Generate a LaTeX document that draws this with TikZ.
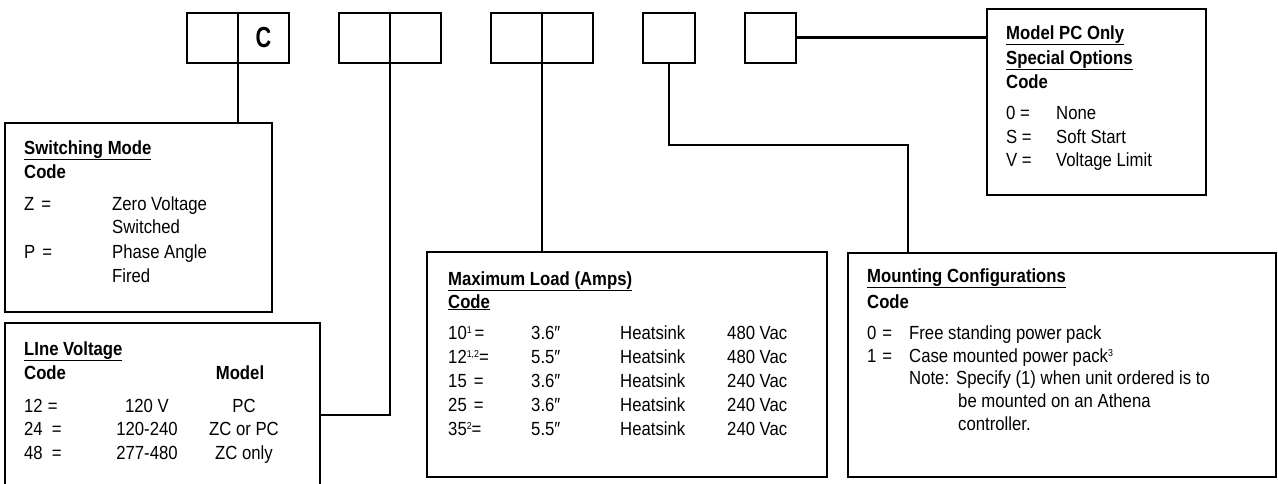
\documentclass[tikz,border=0pt]{standalone}
\usepackage{fontspec}
\setmainfont[FakeStretch=0.88]{Liberation Sans}
\newcommand{\smsup}[1]{\raisebox{6pt}{\fontsize{10}{10}\selectfont #1}}
\begin{document}
\begin{tikzpicture}[x=1pt,y=-1pt,
  cell/.style={draw, line width=2pt, minimum width=51pt, minimum height=50.5pt, anchor=north west, inner sep=0pt, outer sep=0pt},
  bigbox/.style={draw, line width=2.6pt, anchor=north west, inner sep=0pt, outer sep=0pt},
  conn/.style={line width=2.8pt},
  txt/.style={anchor=base west, inner sep=0pt, font=\fontsize{19}{22}\selectfont},
  ctxt/.style={anchor=base, inner sep=0pt, font=\fontsize{19}{22}\selectfont},
  ttl/.style={txt, font=\fontsize{19}{22}\selectfont\bfseries}
]
\useasboundingbox (0,0) rectangle (1278,483);
\clip (0,0) rectangle (1278,483);

% top code cells
\node[cell] (b1) at (187,12.5) {};
\node[cell] (b2) at (238,12.5) {};
\node[font=\fontsize{29}{29}\selectfont\bfseries, inner sep=0pt, xscale=0.85] (cc) at (b2.center) {C};
\node[cell] (b3) at (339,12.5) {};
\node[cell] (b4) at (390,12.5) {};
\node[cell] (b5) at (491,12.5) {};
\node[cell] (b6) at (542,12.5) {};
\node[cell, minimum width=52pt] (b7) at (643,12.5) {};
\node[cell] (b8) at (745,12.5) {};

% big boxes
\node[bigbox, minimum width=267pt, minimum height=189pt] (sw) at (5,123) {};
\node[bigbox, minimum width=315pt, minimum height=175pt] (lv) at (5,323) {};
\node[bigbox, minimum width=400pt, minimum height=225pt] (ml) at (427,252) {};
\node[bigbox, minimum width=428pt, minimum height=224pt] (mc) at (848,253) {};
\node[bigbox, minimum width=219pt, minimum height=186pt] (sp) at (987,9) {};

% connectors
\draw[conn] (b1.south east) -- (b1.south east |- sw.north);
\draw[conn] (b3.south east) |- ([yshift=-92pt]lv.north east);
\draw[conn] (b5.south east) -- (b5.south east |- ml.north);
\coordinate (bend) at (908,145);
\draw[conn] (b7.south) |- (bend) -- (bend |- mc.north);
\draw[conn] (b8.east) -- (b8.east -| sp.west);

% Switching Mode
\node[ttl] (sw1) at (24,154) {\underline{Switching Mode}};
\node[ttl] (sw2) at (24,178) {Code};
\node[txt] (sw3) at (24,210) {Z\hspace{7pt}=};
\node[txt] (sw4) at (112,210) {Zero Voltage};
\node[txt] (sw5) at (112,233) {Switched};
\node[txt] (sw6) at (24,258) {P\hspace{7pt}=};
\node[txt] (sw7) at (112,258) {Phase Angle};
\node[txt] (sw8) at (112,282) {Fired};

% Line Voltage
\node[ttl] (lv1) at (24,355) {\underline{LIne Voltage}};
\node[ttl] (lv2) at (24,379) {Code};
\node[ctxt, font=\fontsize{19}{22}\selectfont\bfseries] (lv3) at (240,379) {Model};
\node[txt] (lv4) at (24,412) {12\hspace{5pt}=};
\node[txt] (lv5) at (24,435) {24\hspace{9pt}=};
\node[txt] (lv6) at (24,459) {48\hspace{9pt}=};
\node[ctxt] (lv7) at (147,412) {120 V};
\node[ctxt] (lv8) at (147,435) {120-240};
\node[ctxt] (lv9) at (147,459) {277-480};
\node[ctxt] (lv10) at (244,412) {PC};
\node[ctxt] (lv11) at (244,435) {ZC or PC};
\node[ctxt] (lv12) at (244,459) {ZC only};

% Maximum Load
\node[ttl] (ml1) at (448,285) {\underline{Maximum Load (Amps)}};
\node[ttl] (ml2) at (448,308) {\underline{Code}};
\node[txt] (ml3) at (448,339) {10\smsup{1}\hspace{3pt}=};
\node[txt] (ml4) at (448,363) {12\smsup{1,2}=};
\node[txt] (ml5) at (448,387) {15\hspace{7pt}=};
\node[txt] (ml6) at (448,411) {25\hspace{7pt}=};
\node[txt] (ml7) at (448,435) {35\smsup{2}=};
\node[txt] (ml8) at (531,339) {3.6\char"2033};
\node[txt] (ml9) at (531,363) {5.5\char"2033};
\node[txt] (ml10) at (531,387) {3.6\char"2033};
\node[txt] (ml11) at (531,411) {3.6\char"2033};
\node[txt] (ml12) at (531,435) {5.5\char"2033};
\node[txt] (ml13) at (620,339) {Heatsink};
\node[txt] (ml14) at (620,363) {Heatsink};
\node[txt] (ml15) at (620,387) {Heatsink};
\node[txt] (ml16) at (620,411) {Heatsink};
\node[txt] (ml17) at (620,435) {Heatsink};
\node[txt] (ml18) at (727,339) {480 Vac};
\node[txt] (ml19) at (727,363) {480 Vac};
\node[txt] (ml20) at (727,387) {240 Vac};
\node[txt] (ml21) at (727,411) {240 Vac};
\node[txt] (ml22) at (727,435) {240 Vac};

% Mounting Configurations
\node[ttl] (mc1) at (867,282) {\underline{Mounting Configurations}};
\node[ttl] (mc2) at (867,308) {Code};
\node[txt] (mc3) at (867,339) {0\hspace{6pt}=};
\node[txt] (mc4) at (867,362) {1\hspace{6pt}=};
\node[txt] (mc5) at (909,339) {Free standing power pack};
\node[txt] (mc6) at (909,362) {Case mounted power pack\smsup{3}};
\node[txt] (mc7) at (909,384) {Note:\hspace{7pt}Specify (1) when unit ordered is to};
\node[txt] (mc9) at (958,407) {be mounted on an Athena};
\node[txt] (mc10) at (958,430) {controller.};

% Special Options
\node[ttl] (sp1) at (1006,39) {\underline{Model PC Only}};
\node[ttl] (sp2) at (1006,64) {\underline{Special Options}};
\node[ttl] (sp3) at (1006,88) {Code};
\node[txt] (sp4) at (1006,119) {0 =};
\node[txt] (sp5) at (1006,143) {S =};
\node[txt] (sp6) at (1006,166) {V =};
\node[txt] (sp7) at (1056,119) {None};
\node[txt] (sp8) at (1056,143) {Soft Start};
\node[txt] (sp9) at (1056,166) {Voltage Limit};
\end{tikzpicture}
\end{document}
